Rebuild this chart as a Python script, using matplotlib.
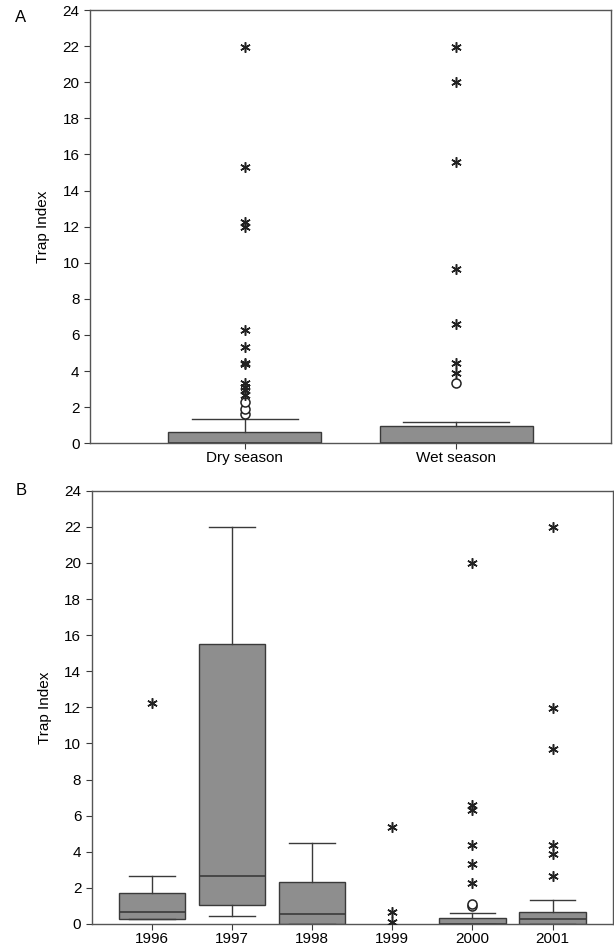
import numpy as np
import matplotlib.pyplot as plt

plt.rcParams['font.family'] = ['Liberation Sans', 'DejaVu Sans']

# Panel A: season box stats
season_labels = ['Dry season', 'Wet season']
season_q1 = [0.0, 0.0]
season_med = [0.0, 0.0]
season_q3 = [0.62, 0.97]
season_whislo = [0.0, 0.0]
season_whishi = [1.35, 1.2]
season_circles = [[1.64, 1.92, 2.26], [3.36]]
season_stars = [[2.66, 2.94, 3.12, 3.34, 4.38, 4.45, 5.34, 6.26, 11.99, 12.27, 15.32, 21.97],
                [3.91, 4.43, 6.59, 9.67, 15.6, 20.03, 21.97]]

# Panel B: yearly box stats
years = ['1996', '1997', '1998', '1999', '2000', '2001']
year_q1 = [0.26, 1.05, 0.0, 0.0, 0.0, 0.0]
year_med = [0.65, 2.68, 0.54, 0.0, 0.0, 0.26]
year_q3 = [1.70, 15.51, 2.31, 0.0, 0.31, 0.68]
year_whislo = [0.26, 0.44, 0.0, 0.0, 0.0, 0.0]
year_whishi = [2.68, 21.98, 4.47, 0.0, 0.59, 1.33]
year_circles = [[], [], [], [], [1.02, 1.08], []]
year_stars = [[12.26], [], [], [0.09, 0.68, 5.39],
              [2.25, 3.31, 4.38, 6.32, 6.59, 20.02],
              [2.68, 3.86, 4.38, 9.68, 11.98, 21.98]]

box_fill = '#8e8e8e'
line_col = '#3a3a3a'
star = (6, 2, 0)
fs = 11


def draw_panel(ax, labels, q1, med, q3, wlo, whi, circles, stars, width, capw, draw_empty=True):
    pos = np.arange(1, len(labels) + 1)
    stats = []
    for i, lab in enumerate(labels):
        stats.append(dict(label=lab, q1=q1[i], med=med[i], q3=q3[i],
                          whislo=wlo[i], whishi=whi[i], fliers=[]))
    keep = [i for i in range(len(labels)) if draw_empty or q3[i] > 0]
    ax.bxp([stats[i] for i in keep], positions=pos[keep], widths=width,
           patch_artist=True, showfliers=False, capwidths=capw,
           boxprops=dict(facecolor=box_fill, edgecolor=line_col, linewidth=1.0),
           medianprops=dict(color=line_col, linewidth=1.2),
           whiskerprops=dict(color=line_col, linewidth=1.0),
           capprops=dict(color=line_col, linewidth=1.0))
    for i in range(len(labels)):
        if circles[i]:
            ax.plot([pos[i]] * len(circles[i]), circles[i], 'o', ms=6.5,
                    mfc='white', mec='#222222', mew=1.1, ls='none', zorder=4)
        if stars[i]:
            ax.plot([pos[i]] * len(stars[i]), stars[i], marker=star, ms=7.5,
                    mec='#222222', mew=1.1, ls='none', zorder=4)
    ax.set_xticks(pos)
    ax.set_xticklabels(labels, fontsize=fs)
    ax.set_ylim(0, 24)
    ax.set_yticks(np.arange(0, 25, 2))
    ax.tick_params(axis='y', labelsize=fs, length=4, width=0.8, color=line_col)
    ax.tick_params(axis='x', length=4, width=0.8, color=line_col, pad=1.5)
    ax.set_ylabel('Trap Index', fontsize=fs, labelpad=9)
    for s in ax.spines.values():
        s.set_color('#555555')
        s.set_linewidth(1.0)


fig = plt.figure(figsize=(6.14, 9.47), dpi=100)

axA = fig.add_axes([0.1466, 0.5319, 0.8485, 0.4575])
draw_panel(axA, season_labels, season_q1, season_med, season_q3, season_whislo,
           season_whishi, season_circles, season_stars, width=0.72, capw=0.5)
axA.set_xlim(0.27, 2.73)

axB = fig.add_axes([0.1493, 0.0243, 0.8485, 0.4575])
draw_panel(axB, years, year_q1, year_med, year_q3, year_whislo, year_whishi,
           year_circles, year_stars, width=0.83, capw=0.57, draw_empty=False)
axB.set_xlim(0.25, 6.75)

fig.text(0.034, 0.982, 'A', fontsize=12, ha='center', va='center')
fig.text(0.034, 0.482, 'B', fontsize=12, ha='center', va='center')

fig.savefig('out.png', dpi=100)
